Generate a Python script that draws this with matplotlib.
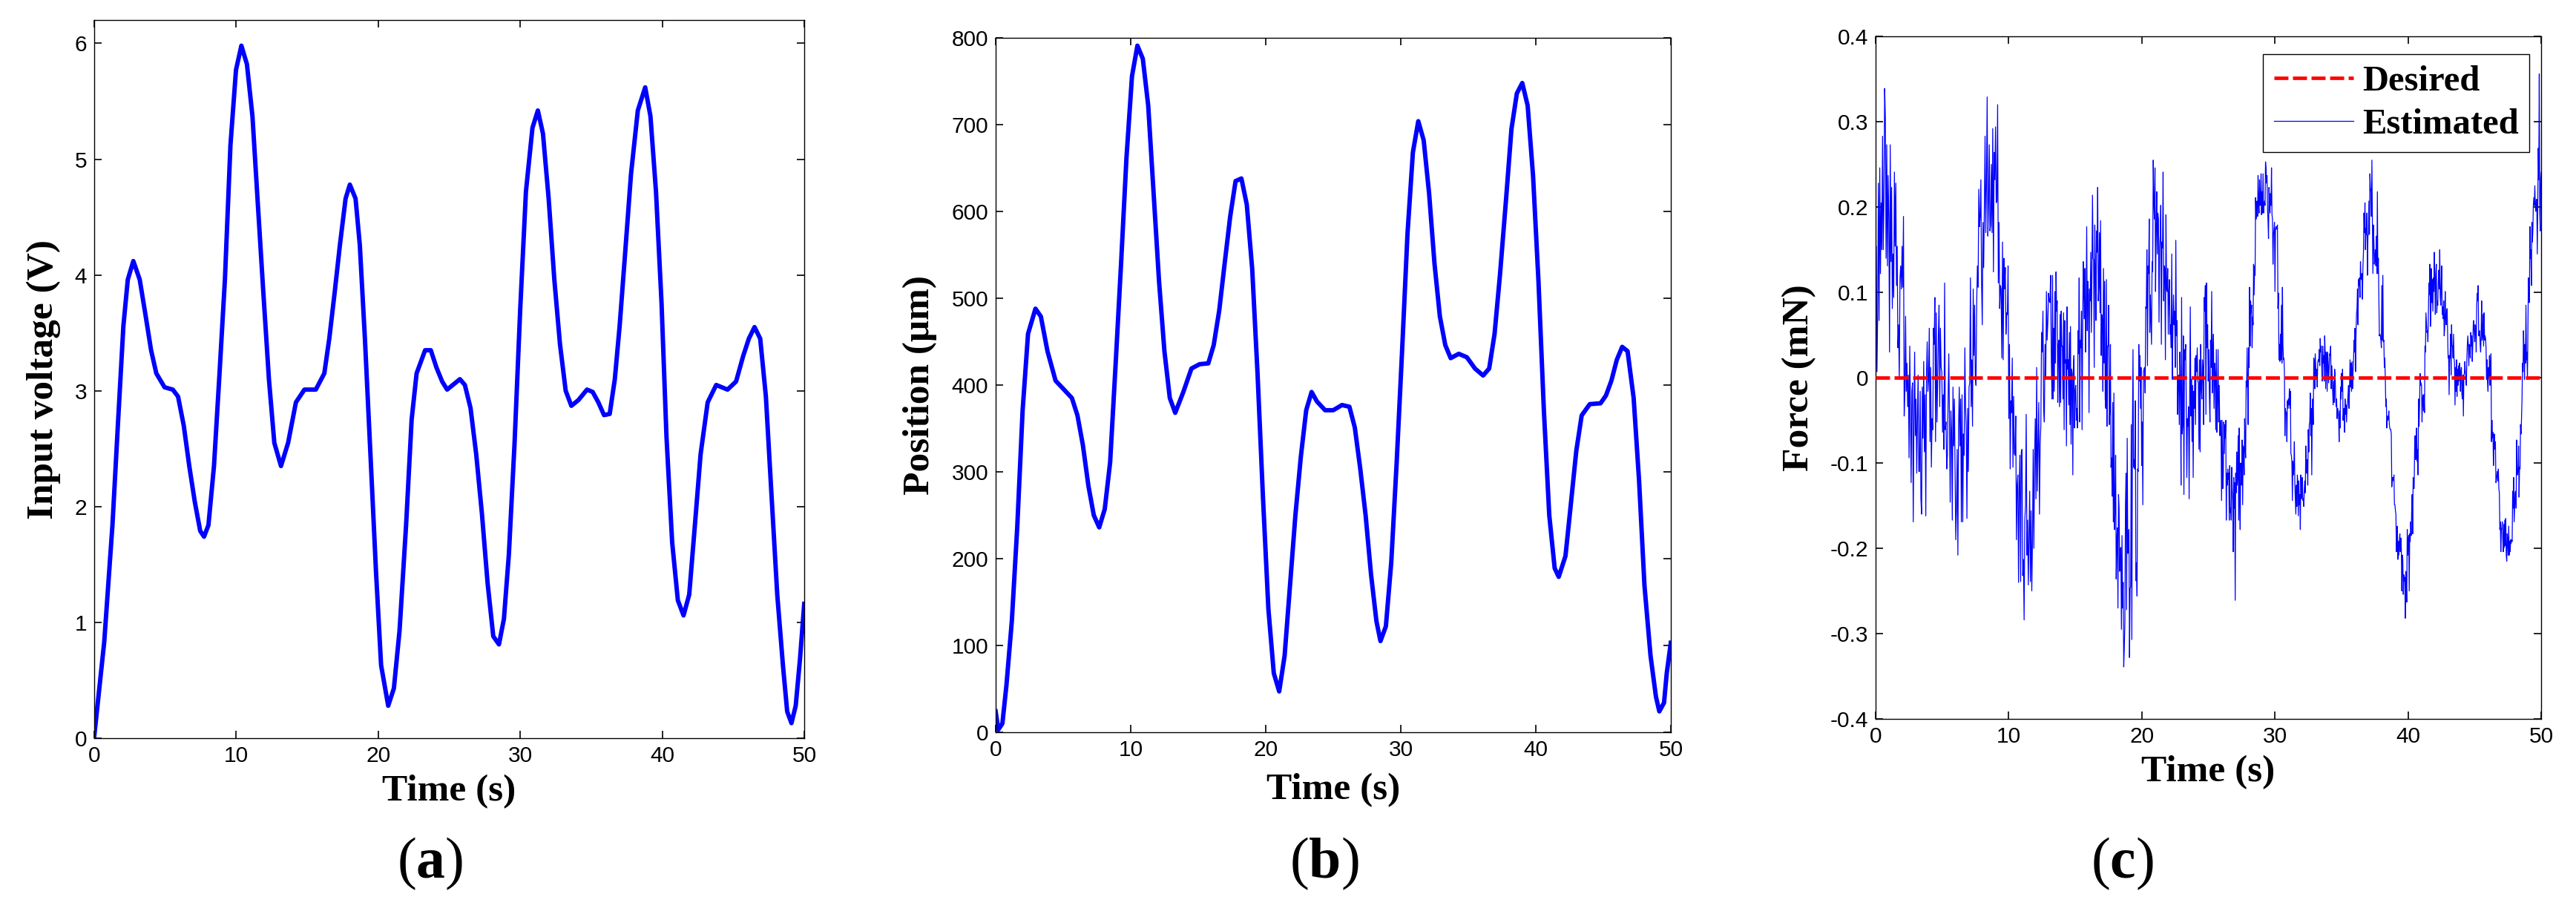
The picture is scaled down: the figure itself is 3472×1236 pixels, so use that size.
import numpy as np
import matplotlib
matplotlib.use('Agg')
import matplotlib.pyplot as plt
from matplotlib.ticker import FixedLocator, FixedFormatter

plt.rcParams['mathtext.fontset'] = 'custom'
plt.rcParams['mathtext.rm'] = 'Liberation Serif'
plt.rcParams['mathtext.bf'] = 'Liberation Serif:bold'

# (a) tension d'entree
t_volt = [0, 0.7, 1.28, 1.66, 2.05, 2.36, 2.75, 3.2, 3.6, 4.0, 4.37, 4.95, 5.53, 5.9, 6.3, 6.69,
          7.08, 7.46, 7.73, 8.04, 8.43, 8.82, 9.2, 9.59, 9.98, 10.36, 10.75, 11.14, 11.52, 11.9,
          12.3, 12.68, 13.15, 13.65, 14.2, 14.8, 15.6, 16.2, 16.55, 16.94, 17.3, 17.7, 18.0, 18.4,
          18.7, 19.06, 19.45, 19.84, 20.2, 20.7, 21.1, 21.5, 21.96, 22.35, 22.7, 23.3, 23.7, 24.1,
          24.5, 24.85, 25.25, 25.75, 26.1, 26.5, 26.9, 27.3, 27.7, 28.1, 28.5, 28.85, 29.2, 29.6,
          30.0, 30.4, 30.86, 31.24, 31.6, 32.0, 32.4, 32.8, 33.2, 33.6, 34.1, 34.7, 35.1, 35.5,
          35.9, 36.3, 36.66, 37.0, 37.4, 37.8, 38.28, 38.8, 39.17, 39.56, 39.95, 40.3, 40.7, 41.1,
          41.5, 41.9, 42.3, 42.7, 43.2, 43.8, 44.6, 45.2, 45.7, 46.1, 46.5, 46.9, 47.3, 47.7, 48.1,
          48.5, 48.8, 49.1, 49.4, 49.7, 50.0]
volt = [0.02, 0.83, 1.84, 2.7, 3.56, 3.96, 4.12, 3.96, 3.66, 3.35, 3.15, 3.03, 3.01, 2.95, 2.70, 2.35,
        2.04, 1.79, 1.74, 1.84, 2.35, 3.15, 3.96, 5.12, 5.77, 5.98, 5.82, 5.37, 4.61, 3.86,
        3.10, 2.55, 2.35, 2.55, 2.9, 3.01, 3.01, 3.15, 3.45, 3.86, 4.26, 4.66, 4.78, 4.66,
        4.26, 3.45, 2.45, 1.44, 0.63, 0.28, 0.43, 0.93, 1.84, 2.75, 3.15, 3.35, 3.35, 3.2,
        3.08, 3.01, 3.05, 3.10, 3.05, 2.85, 2.45, 1.94, 1.34, 0.88, 0.81, 1.03, 1.59, 2.55,
        3.71, 4.72, 5.27, 5.42, 5.22, 4.66, 3.96, 3.40, 3.0, 2.87, 2.92, 3.01, 2.99, 2.9,
        2.79, 2.80, 3.10, 3.56, 4.21, 4.87, 5.42, 5.62, 5.37, 4.72, 3.76, 2.60, 1.69, 1.19,
        1.06, 1.24, 1.84, 2.45, 2.90, 3.05, 3.01, 3.08, 3.30, 3.45, 3.55, 3.45, 2.95, 2.09, 1.24,
        0.63, 0.23, 0.13, 0.28, 0.68, 1.16]

# (b) position
t_pos = [0, 0.2, 0.5, 0.8, 1.2, 1.6, 2.0, 2.4, 2.95, 3.35, 3.84, 4.44, 5.05, 5.65, 6.06, 6.46, 6.87,
         7.27, 7.67, 8.08, 8.48, 8.89, 9.29, 9.69, 10.1, 10.5, 10.9, 11.3, 11.7, 12.1, 12.5, 12.9,
         13.3, 13.9, 14.5, 15.1, 15.75, 16.15, 16.56, 16.96, 17.37, 17.77, 18.2, 18.6, 19.0, 19.4,
         19.8, 20.2, 20.6, 21.0, 21.4, 21.8, 22.2, 22.6, 23.0, 23.4, 23.8, 24.4, 25.0, 25.65, 26.2,
         26.6, 27.0, 27.4, 27.8, 28.2, 28.5, 28.9, 29.3, 29.7, 30.1, 30.5, 30.9, 31.3, 31.7, 32.1,
         32.5, 32.9, 33.3, 33.7, 34.3, 34.9, 35.5, 36.1, 36.55, 36.95, 37.35, 37.8, 38.2, 38.6,
         39.0, 39.4, 39.8, 40.2, 40.6, 41.0, 41.4, 41.7, 42.2, 42.6, 43.0, 43.4, 44.0, 44.8, 45.2,
         45.6, 46.0, 46.4, 46.8, 47.25, 47.65, 48.05, 48.5, 48.9, 49.15, 49.5, 49.7, 50.0]
pos = [24, 3, 10, 54, 128, 236, 371, 459, 488, 479, 439, 405, 395, 385, 365, 331, 284,
       250, 236, 257, 311, 425, 540, 662, 756, 791, 776, 722, 621, 520, 439, 385,
       368, 392, 419, 424, 425, 446, 486, 540, 594, 635, 638, 608, 534, 412,
       270, 142, 68, 47, 88, 169, 250, 317, 371, 392, 381, 371, 371, 377, 375,
       351, 304, 250, 182, 128, 105, 122, 196, 311, 439, 574, 668, 704, 682, 621,
       540, 479, 446, 431, 436, 432, 419, 411, 419, 459, 527, 614, 695, 736,
       748, 722, 641, 520, 371, 250, 189, 179, 203, 263, 324, 365, 378, 379, 388,
       405, 429, 444, 439, 385, 290, 169, 88, 41, 24, 34, 68, 103]

# (c) force estimee, lue par morceaux
force_1 = [-0.01, 0.154, 0.007, 0.076, 0.228, 0.067, 0.246, 0.122, 0.205, 0.150, 0.283, 0.150, 0.205,
           0.339, 0.305, 0.140, 0.273, 0.131, 0.237, 0.186, 0.030, 0.273, 0.136, 0.223, 0.081, 0.145,
           0.094, 0.241, 0.154, 0.228, 0.108, 0.154, 0.035, 0.062, -0.002, 0.117, 0.131, 0.104, 0.154,
           0.106, 0.189, -0.045, -0.016, 0.072, -0.016, 0.017, -0.034, 0.003, -0.094, 0.037, -0.043,
           -0.123, -0.016, -0.006, -0.169, -0.052, 0.030, -0.068, -0.025, -0.112, -0.048, 0.003,
           -0.110, -0.110, -0.016, -0.142, -0.160, -0.011, -0.071, 0.019, -0.087, -0.020, -0.162,
           0.003, 0.042, -0.016, -0.002, 0.058, -0.075, 0.012, -0.105, -0.048, -0.061, 0.058, 0.039,
           0.094, -0.075, 0.076, -0.052, -0.006, 0.049, 0.085, -0.034, 0.058, 0.012, 0.007, -0.064,
           -0.020, -0.084, 0.111, -0.061, -0.052, -0.107, -0.091, -0.025, 0.028, -0.050, -0.146,
           -0.039, -0.064, -0.167, -0.011, -0.080, -0.025, -0.110, -0.190, -0.153, -0.084, -0.208,
           -0.059, -0.011, -0.080, -0.025, -0.169, -0.020, -0.169, -0.066, -0.091, 0.035, -0.034,
           -0.059, -0.165, -0.036, -0.110, -0.011, -0.006, 0.117, -0.034, 0.021, -0.057, 0.104, 0.026,
           0.085, 0.003, -0.009, 0.088, 0.131, 0.106, 0.221, 0.177, 0.189, 0.232, 0.111, 0.062, 0.182,
           0.129, 0.200, 0.283, 0.170, 0.228, 0.329, 0.166, 0.205, 0.273, 0.172, 0.179, 0.250, 0.170,
           0.292, 0.124, 0.264, 0.232, 0.294, 0.205, 0.207, 0.320, 0.111, 0.182, 0.081, 0.108, 0.104,
           0.023, 0.159, 0.021, 0.140, 0.104, 0.129, 0.051, 0.076, 0.074, 0.131, -0.048, 0.039, -0.107,
           -0.027, -0.041, 0.023, -0.105, -0.022, -0.089, -0.091, -0.045, -0.190, -0.126, -0.114,
           -0.240, -0.128, -0.091, -0.239, -0.087, -0.084, -0.232, -0.213, -0.284, -0.167, -0.149,
           -0.043, -0.208, -0.167, -0.243, -0.190, -0.133, -0.239, -0.156, -0.250, -0.190, -0.084,
           -0.200, -0.096, -0.048, -0.142, 0.012, -0.133, -0.082, -0.029, -0.160, -0.078, -0.057,
           0.053, 0.030, 0.078, -0.036, -0.052, 0.039, -0.002, 0.101, 0.044, 0.065, 0.099, 0.090,
           0.088, 0.120, 0.021]
force_2 = [-0.025, 0.120, -0.025, 0.058, -0.016, 0.101, 0.017, 0.124, 0.078, 0.090, -0.029, 0.039,
           0.044, -0.034, 0.074, -0.029, 0.078, 0.037, 0.037, -0.025, 0.076, -0.061, 0.067, 0.017,
           0.021, -0.080, 0.083, 0.010, 0.021, -0.032, 0.053, -0.055, 0.060, -0.078, 0.010, 0.005,
           -0.114, 0.014, 0.026, -0.059, -0.016, -0.009, -0.050, -0.036, -0.059, 0.055, 0.028, 0.117,
           -0.052, 0.044, 0.035, 0.078, -0.061, 0.051, 0.136, 0.099, 0.069, 0.128, 0.030, 0.076,
           0.177, 0.055, 0.113, 0.097, -0.041, 0.104, 0.090, 0.147, 0.053, 0.120, 0.214, 0.140, 0.138,
           0.012, 0.179, 0.127, 0.067, 0.172, 0.147, 0.223, 0.090, 0.106, 0.170, 0.076, 0.184, 0.026,
           0.074, 0.069, -0.016, 0.128, 0.017, 0.113, -0.025, -0.036, 0.115, -0.057, 0.037, 0.037,
           0.085, -0.055, -0.039, 0.039, -0.105, -0.094, -0.139, -0.029, -0.169, -0.018, -0.178,
           -0.156, -0.091, -0.236, -0.190, -0.176, -0.270, -0.137, -0.153, -0.227, -0.201, -0.199,
           -0.295, -0.185, -0.270, -0.240, -0.339, -0.316, -0.286, -0.149, -0.112, -0.272, -0.071,
           -0.206, -0.188, -0.178, -0.328, -0.247, -0.245, -0.055, -0.307, -0.064, 0.033, -0.105,
           -0.096, -0.107, -0.027, -0.238, -0.217, -0.256, -0.107, -0.110, 0.039, -0.004, 0.026,
           -0.036, 0.012, -0.103, -0.052, -0.149, 0.007, 0.010, 0.012, -0.018, 0.083, 0.081, 0.150,
           0.014, 0.131, 0.122, 0.186, 0.053, 0.097, 0.069, 0.039, 0.136, 0.124, 0.255, 0.205, 0.186,
           0.246, 0.101, 0.175, 0.218, 0.145, 0.193, 0.186, 0.065, 0.152, 0.166, 0.202, 0.039, 0.159,
           0.152, 0.241, 0.090, 0.131, 0.128, 0.021, 0.191, 0.104, 0.101, 0.128, 0.051, 0.101, 0.115,
           0.051, 0.062, 0.035, 0.145, -0.002, 0.062, 0.097, 0.062, 0.078, 0.012, 0.161, 0.049, 0.067,
           -0.043, 0.000, 0.003, -0.055, 0.030, -0.006, -0.126, 0.094, -0.066, -0.055, 0.049, -0.137,
           0.033, 0.021, 0.039, -0.025, -0.117, -0.048, -0.057, -0.034, -0.142, -0.016, 0.083, -0.045,
           -0.002, -0.075, -0.009, -0.117, -0.016, -0.036, 0.023, -0.055, 0.026, 0.007, 0.035, -0.004,
           -0.006, -0.084, 0.021, -0.087, 0.039, -0.011, -0.025, 0.021, 0.010, -0.055, 0.094, 0.078,
           0.108, -0.043, 0.111, 0.035, 0.062, -0.004, 0.033, -0.020, -0.052, 0.044, 0.012, 0.101,
           -0.018, 0.030, 0.051, -0.036, 0.017, 0.007, -0.061, 0.033, -0.064, -0.029, 0.033, -0.052,
           -0.009, -0.068, -0.052, -0.050, -0.144, -0.050]
force_3 = [-0.130, -0.117, -0.052, -0.089, -0.055, -0.071, -0.050, -0.167, -0.112, -0.126, -0.107,
           -0.119, -0.112, -0.167, -0.103, -0.158, -0.153, -0.167, -0.105, -0.130, -0.144, -0.204,
           -0.117, -0.153, -0.123, -0.261, -0.112, -0.135, -0.087, -0.126, -0.114, -0.068, -0.167,
           -0.059, -0.144, -0.178, -0.100, -0.117, -0.126, -0.073, -0.149, -0.080, -0.084, -0.114,
           -0.048, -0.082, -0.094, -0.004, -0.011, 0.035, -0.018, -0.055, 0.035, 0.012, 0.106, 0.037,
           0.090, 0.076, 0.085, 0.035, 0.071, 0.062, 0.133, 0.097, 0.131, 0.120, 0.211, 0.186, 0.200,
           0.207, 0.189, 0.237, 0.202, 0.193, 0.232, 0.202, 0.202, 0.239, 0.191, 0.218, 0.193, 0.239,
           0.193, 0.202, 0.207, 0.202, 0.253, 0.246, 0.228, 0.237, 0.198, 0.184, 0.163, 0.223, 0.200,
           0.193, 0.216, 0.202, 0.246, 0.191, 0.186, 0.133, 0.168, 0.174, 0.182, 0.101, 0.174, 0.177,
           0.174, 0.177, 0.179, 0.081, 0.099, 0.021, 0.039, 0.019, 0.051, 0.021, 0.085, 0.017, 0.106,
           0.039, 0.021, 0.023, 0.007, -0.068, -0.036, -0.041, -0.041, -0.075, -0.027, -0.036, -0.025,
           -0.032, -0.013, -0.036, -0.016, -0.089, -0.091, -0.098, -0.144, -0.098, -0.114, -0.105,
           -0.075, -0.126, -0.144, -0.160, -0.126, -0.151, -0.114, -0.123, -0.162, -0.121, -0.149,
           -0.137, -0.178, -0.114, -0.142, -0.135, -0.117, -0.144, -0.142, -0.151, -0.130, -0.121,
           -0.135, -0.080, -0.110, -0.112, -0.096, -0.126, -0.061, -0.087, -0.055, -0.052, -0.018,
           -0.068, -0.036, -0.114, -0.041, -0.025, -0.055, 0.023, 0.019, -0.013, 0.028, 0.012, -0.002,
           0.010, -0.011, 0.017, 0.021, 0.019, 0.033, 0.014, 0.046, 0.030, 0.037, 0.014, -0.004, 0.037,
           0.017, 0.026, -0.004, 0.049, 0.030, -0.013, 0.030, 0.026, -0.016, 0.030, 0.017, -0.006,
           0.010, 0.028, 0.026, 0.037, -0.013, 0.014, 0.003, -0.016, -0.032, -0.004, -0.029, 0.010,
           0.003, -0.022, -0.034, -0.025, -0.048, -0.036, -0.041, -0.045, -0.075, -0.039, -0.059,
           -0.011, -0.025, 0.005, -0.016, 0.010, -0.050, -0.039, -0.036, -0.064, -0.025, -0.043,
           -0.032, -0.052, -0.034, -0.029, -0.020, -0.009, -0.036, -0.013, 0.021, -0.011, 0.017,
           -0.016, 0.019, -0.013, 0.007, 0.019, 0.044, 0.030, 0.058, 0.007, 0.049, 0.074, 0.081, 0.104,
           0.062, 0.115, 0.108, 0.117, 0.094, 0.136, 0.117, 0.115, 0.122, 0.092, 0.131, 0.147, 0.193,
           0.170, 0.205, 0.150, 0.175, 0.168, 0.193, 0.120, 0.166, 0.168, 0.207, 0.168, 0.239, 0.223,
           0.218, 0.189, 0.255, 0.182, 0.122, 0.179, 0.161, 0.133, 0.140, 0.150, 0.131, 0.166, 0.122,
           0.218, 0.122, 0.140, 0.094, 0.049, 0.051, 0.049, 0.044, 0.035, 0.108, 0.044, 0.120, 0.042,
           0.044, 0.012, 0.023, -0.002, -0.034, -0.025, -0.059, -0.045, -0.050, -0.048, -0.039, -0.055,
           -0.059, -0.061, -0.061, -0.066, -0.128, -0.117, -0.117]
force_4 = [-0.121, -0.114, -0.149, -0.149, -0.156, -0.160, -0.204, -0.192, -0.174, -0.213, -0.192,
           -0.208, -0.192, -0.183, -0.204, -0.188, -0.201, -0.250, -0.208, -0.213, -0.254, -0.231,
           -0.238, -0.234, -0.282, -0.227, -0.240, -0.263, -0.178, -0.208, -0.192, -0.185, -0.250,
           -0.183, -0.192, -0.169, -0.185, -0.156, -0.137, -0.183, -0.117, -0.130, -0.130, -0.082,
           -0.068, -0.096, -0.082, -0.059, -0.098, -0.084, -0.114, -0.025, -0.057, -0.032, 0.005,
           -0.009, -0.006, -0.009, -0.052, -0.025, -0.020, -0.039, -0.020, -0.041, 0.037, 0.030, 0.076,
           0.065, 0.053, 0.055, 0.042, 0.076, 0.111, 0.097, 0.133, 0.060, 0.076, 0.128, 0.088, 0.115,
           0.078, 0.117, 0.101, 0.147, 0.115, 0.074, 0.122, 0.133, 0.076, 0.090, 0.085, 0.113, 0.126,
           0.104, 0.150, 0.094, 0.085, 0.111, 0.131, 0.074, 0.083, 0.069, 0.090, 0.049, 0.058, 0.101,
           0.069, 0.062, 0.078, 0.081, 0.051, 0.023, 0.026, -0.020, 0.026, 0.023, 0.051, 0.003, 0.062,
           0.037, 0.037, 0.023, 0.051, 0.023, 0.017, -0.032, 0.012, -0.016, 0.021, -0.022, 0.010,
           -0.009, 0.014, -0.004, 0.017, 0.012, -0.016, 0.007, 0.012, -0.020, -0.025, 0.003, -0.045,
           0.003, 0.005, 0.019, 0.007, -0.002, -0.009, 0.021, 0.039, 0.049, 0.039, 0.014, 0.039, 0.037,
           0.023, 0.053, 0.037, 0.049, 0.019, 0.037, 0.062, 0.067, 0.053, 0.042, 0.062, 0.058, 0.030,
           0.085, 0.099, 0.090, 0.108, 0.049, 0.053, 0.055, 0.039, 0.030, 0.051, 0.090, 0.044, 0.049,
           0.074, 0.037, 0.076, 0.044, 0.049, 0.046, 0.035, -0.002, 0.021, -0.006, -0.016, 0.012,
           0.000, 0.026, -0.009, 0.012, 0.028, -0.075, -0.050, -0.071, -0.064, -0.103, -0.080, -0.066,
           -0.084, -0.075, -0.123, -0.121, -0.114, -0.110, -0.121, -0.107, -0.130, -0.135, -0.178,
           -0.169, -0.204, -0.178, -0.176, -0.169, -0.190, -0.204, -0.172, -0.199, -0.167, -0.197,
           -0.165, -0.208, -0.215, -0.183, -0.190, -0.208, -0.174, -0.208, -0.192, -0.204, -0.190,
           -0.194, -0.190, -0.192, -0.133, -0.153, -0.117, -0.169, -0.153, -0.135, -0.133, -0.153,
           -0.073, -0.110, -0.114, -0.107, -0.080, -0.140, -0.105, -0.107, -0.055, -0.066, -0.048,
           -0.025, 0.017, 0.007, 0.055, 0.030, -0.002, 0.039, 0.017, 0.085, 0.021, 0.030, -0.002, 0.062,
           0.117, 0.104, 0.088, 0.177, 0.140, 0.150, 0.108, 0.182, 0.159, 0.172, 0.202, 0.211, 0.202,
           0.225, 0.200, 0.195, 0.209, 0.209, 0.145, 0.202, 0.269, 0.232, 0.356, 0.195, 0.172, 0.232,
           0.241]
# bornes en temps de chaque morceau
seg_bounds = [(0.0, 13.2), (13.25, 26.03), (26.08, 38.85), (38.9, 50.0)]

t_force = np.concatenate([np.linspace(a, b, len(f)) for (a, b), f in
                          zip(seg_bounds, [force_1, force_2, force_3, force_4])])
force = np.concatenate([force_1, force_2, force_3, force_4])

tick_font = {'family': 'Liberation Sans', 'size': 21.5}
lab_font = {'family': 'Liberation Serif', 'weight': 'bold', 'size': 37}

fig = plt.figure(figsize=(34.72, 12.36), dpi=100)
ax_a = fig.add_axes([0.0366, 0.195, 0.2756, 0.783])
ax_b = fig.add_axes([0.3865, 0.2015, 0.2621, 0.7572])
ax_c = fig.add_axes([0.7281, 0.216, 0.2584, 0.7443])


def style(ax, yticks, ylabels, ylim, ylabel, xlab_y, ylab_x):
    ax.set_xlim(0, 50)
    ax.set_ylim(*ylim)
    ax.xaxis.set_major_locator(FixedLocator([0, 10, 20, 30, 40, 50]))
    ax.xaxis.set_major_formatter(FixedFormatter(['0', '10', '20', '30', '40', '50']))
    ax.yaxis.set_major_locator(FixedLocator(yticks))
    ax.yaxis.set_major_formatter(FixedFormatter(ylabels))
    ax.tick_params(direction='in', length=7, width=1.2, top=True, right=True, pad=7)
    for lab in ax.get_xticklabels() + ax.get_yticklabels():
        lab.set_fontfamily(tick_font['family'])
        lab.set_fontsize(tick_font['size'])
    for sp in ax.spines.values():
        sp.set_linewidth(1.0)
    ax.set_xlabel('Time (s)', fontdict=lab_font, va='center')
    ax.xaxis.set_label_coords(0.5, xlab_y)
    ax.set_ylabel(ylabel, fontdict=lab_font, va='center')
    ax.yaxis.set_label_coords(ylab_x, 0.5)


ax_a.plot(t_volt, volt, color='#0000ff', lw=4.3)
style(ax_a, [0, 1, 2, 3, 4, 5, 6], ['0', '1', '2', '3', '4', '5', '6'], (0, 6.2),
      'Input voltage (V)', -0.074, -0.071)

ax_b.plot(t_pos, pos, color='#0000ff', lw=4.3)
style(ax_b, list(range(0, 801, 100)), [str(v) for v in range(0, 801, 100)], (0, 800),
      'Position (μm)', -0.084, -0.112)

ax_c.plot([0, 50], [0, 0], color='#ff0000', lw=3.4, ls=(0, (4, 1.3)), label='Desired', zorder=3)
ax_c.plot(t_force, force, color='#0000ff', lw=0.9, label='Estimated')
yt_c = [-0.4, -0.3, -0.2, -0.1, 0, 0.1, 0.2, 0.3, 0.4]
style(ax_c, yt_c, ['-0.4', '-0.3', '-0.2', '-0.1', '0', '0.1', '0.2', '0.3', '0.4'], (-0.4, 0.4),
      'Force (mN)', -0.078, -0.115)
leg = ax_c.legend(loc='upper right', bbox_to_anchor=(0.982, 0.974), fancybox=False, edgecolor='black',
                  prop={'family': 'Liberation Serif', 'weight': 'bold', 'size': 35},
                  handlelength=2.2, handletextpad=0.25, borderpad=0.3, labelspacing=0.3,
                  borderaxespad=0, framealpha=1)
leg.get_frame().set_linewidth(1.0)

for x, letter in [(0.167, 'a'), (0.514, 'b'), (0.824, 'c')]:
    fig.text(x, 0.058, r'$(\mathbf{' + letter + '})$', ha='center', va='center', fontsize=56)

fig.savefig('out.png', dpi=100)
